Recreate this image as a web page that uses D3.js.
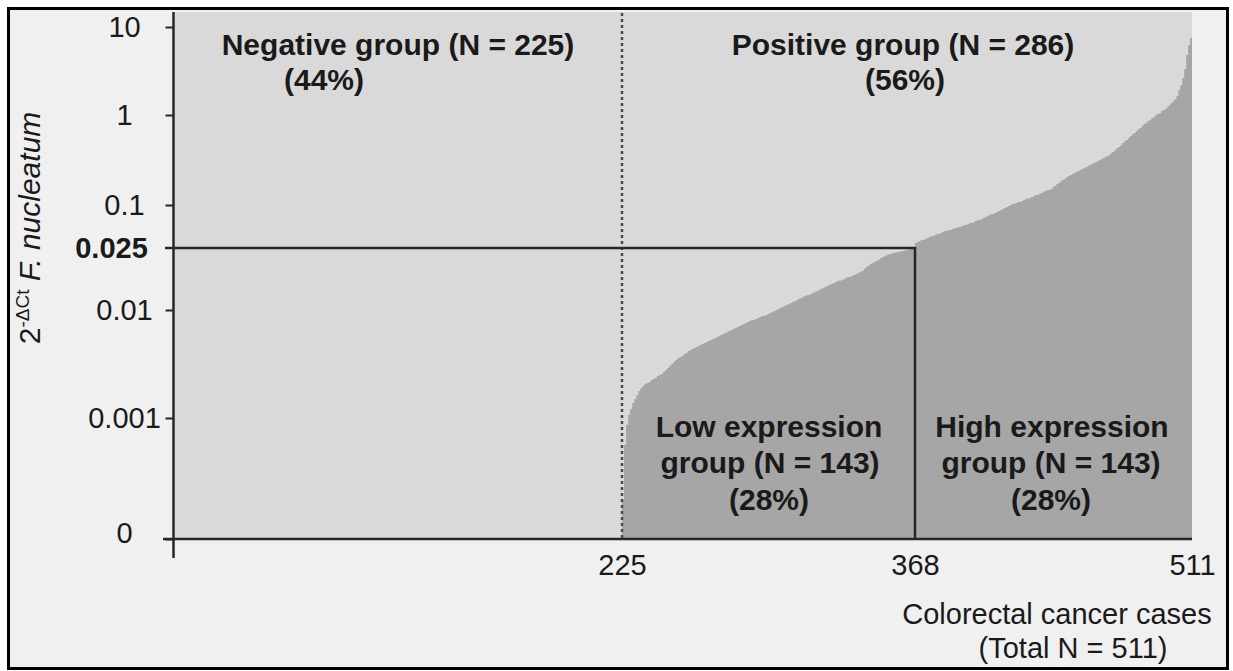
<!DOCTYPE html>
<html>
<head>
<meta charset="utf-8">
<script src="https://cdn.jsdelivr.net/npm/d3@7"></script>
<style>
  body { margin: 0; background: #ffffff; }
  svg { display: block; }
  text { font-family: "Liberation Sans", Arial, sans-serif; fill: #1a1a1a; }
</style>
</head>
<body>
<svg id="chart" width="1233" height="671"></svg>
<script>
// Fusobacterium nucleatum load (2^-ΔCt) per colorectal cancer case, sorted ascending.
// Negative cases (no detectable load) are all zero.
const negativeCount = 225;
const threshold = 0.025;

// Positive cases below the median (low expression group)
const lowValues = [
  0.00021, 0.0006, 0.00088, 0.00107, 0.00121, 0.00138, 0.0015, 0.00163, 0.00178, 0.0019,
  0.00198, 0.00206, 0.00211, 0.00216, 0.00225, 0.0023, 0.00235, 0.00245, 0.0025, 0.00255,
  0.00267, 0.00278, 0.0029, 0.00303, 0.00316, 0.0033, 0.00344, 0.0036, 0.00367, 0.00375,
  0.00392, 0.004, 0.00417, 0.00426, 0.00435, 0.00445, 0.00454, 0.00464, 0.00474, 0.00484,
  0.00495, 0.00505, 0.00516, 0.00527, 0.00539, 0.0055, 0.00562, 0.00574, 0.00587, 0.006,
  0.00613, 0.00626, 0.00639, 0.00653, 0.00667, 0.00681, 0.00696, 0.00711, 0.00726, 0.00742,
  0.00758, 0.00774, 0.00791, 0.00808, 0.00808, 0.00825, 0.00843, 0.00861, 0.0088, 0.0088,
  0.00899, 0.00918, 0.00938, 0.00958, 0.00979, 0.01, 0.0102, 0.0103, 0.0105, 0.0106,
  0.0108, 0.0109, 0.0111, 0.0113, 0.0114, 0.0116, 0.0118, 0.0119, 0.0121, 0.0123,
  0.0125, 0.0125, 0.0127, 0.0129, 0.0131, 0.0133, 0.0135, 0.0137, 0.0139, 0.0141,
  0.0143, 0.0145, 0.0147, 0.0149, 0.0151, 0.0154, 0.0154, 0.0156, 0.0158, 0.0161,
  0.0163, 0.0163, 0.0166, 0.0168, 0.017, 0.0173, 0.0176, 0.0178, 0.0184, 0.0189,
  0.0192, 0.0198, 0.0201, 0.0204, 0.0207, 0.021, 0.0216, 0.0219, 0.0222, 0.0226,
  0.0229, 0.0229, 0.0233, 0.0233, 0.0236, 0.0236, 0.0239, 0.0239, 0.0243, 0.0243,
  0.0247, 0.0247, 0.025
];

// Positive cases above the median (high expression group)
const highValues = [
  0.0294, 0.0303, 0.0313, 0.0324, 0.0324, 0.0334, 0.0345, 0.0356, 0.0368, 0.0368,
  0.038, 0.0393, 0.0393, 0.0406, 0.0419, 0.0433, 0.0433, 0.0447, 0.0447, 0.0461,
  0.0476, 0.0476, 0.0492, 0.0492, 0.0508, 0.0525, 0.0525, 0.0542, 0.056, 0.056,
  0.0578, 0.0597, 0.0617, 0.0617, 0.0637, 0.0658, 0.0679, 0.0702, 0.0724, 0.0748,
  0.0748, 0.0773, 0.0798, 0.0824, 0.0851, 0.0879, 0.0908, 0.0938, 0.0968, 0.1,
  0.103, 0.103, 0.105, 0.108, 0.108, 0.111, 0.114, 0.117, 0.117, 0.12,
  0.123, 0.126, 0.129, 0.129, 0.133, 0.136, 0.14, 0.143, 0.147, 0.147,
  0.151, 0.159, 0.163, 0.171, 0.176, 0.185, 0.19, 0.195, 0.205, 0.21,
  0.215, 0.221, 0.227, 0.233, 0.239, 0.245, 0.251, 0.258, 0.264, 0.271,
  0.278, 0.286, 0.293, 0.301, 0.308, 0.316, 0.324, 0.333, 0.342, 0.35,
  0.359, 0.378, 0.388, 0.408, 0.43, 0.441, 0.464, 0.489, 0.514, 0.528,
  0.555, 0.584, 0.615, 0.631, 0.664, 0.699, 0.717, 0.755, 0.794, 0.815,
  0.858, 0.88, 0.926, 0.95, 1.0, 1.03, 1.05, 1.11, 1.14, 1.17,
  1.23, 1.3, 1.37, 1.44, 1.52, 1.64, 1.92, 2.19, 2.63, 3.33,
  4.81, 6.25, 7.5
];

const yTickValues = [0, 0.001, 0.01, 0.1, 1, 10];
const yTickLabels = ["0", "0.001", "0.01", "0.1", "1", "10"];
const xTickValues = [225, 368, 511];

// ---------------------------------------------------------------------------
const negativeValues = new Array(negativeCount).fill(0);
const allValues = negativeValues.concat(lowValues, highValues);
const total = allValues.length;
const positiveCount = lowValues.length + highValues.length;
const pct = n => Math.round(n / total * 100) + "%";

const svg = d3.select("#chart");

// x: case rank; y: log10 of the load (zero is pinned to the baseline)
const x = d3.scaleLinear()
  .domain([0, negativeCount, negativeCount + lowValues.length, total])
  .range([175, 622, 915, 1192]);
const zeroLog = -4;
const yLog = d3.scaleLinear()
  .domain([zeroLog, -3, -2, Math.log10(threshold), -1, 0, 1])
  .range([539, 418, 310, 248, 205, 115, 27])
  .clamp(true);
const toLog = v => v > 0 ? Math.log10(v) : zeroLog;
const y = v => yLog(toLog(v));
const baseY = y(0);
const plotTop = 12;

// outer frame
svg.append("rect")
  .attr("x", 8.5).attr("y", 8.5).attr("width", 1219).attr("height", 660)
  .attr("fill", "#f0f0f0").attr("stroke", "#000").attr("stroke-width", 3);

// plot background
svg.append("rect")
  .attr("x", x(0)).attr("y", plotTop)
  .attr("width", x(total) - x(0)).attr("height", baseY - plotTop)
  .attr("fill", "#d9d9d9");

// step area: one flat step per case
const steps = [];
allValues.forEach((v, i) => {
  steps.push({ i: i, v: v });
  steps.push({ i: i + 1, v: v });
});
const area = d3.area()
  .x(d => x(d.i))
  .y0(baseY)
  .y1(d => y(d.v));
svg.append("path")
  .datum(steps)
  .attr("d", area)
  .attr("fill", "#a6a6a6");

// split between negative and positive cases
svg.append("line")
  .attr("x1", x(negativeCount)).attr("x2", x(negativeCount))
  .attr("y1", plotTop + 1).attr("y2", baseY)
  .attr("stroke", "#4a4a4a").attr("stroke-width", 2.5)
  .attr("stroke-dasharray", "3,3");

// median threshold (0.025) and the low/high split
const splitX = x(negativeCount + lowValues.length);
svg.append("path")
  .attr("d", `M165,${y(threshold)}H${splitX}V${baseY}`)
  .attr("fill", "none").attr("stroke", "#262626").attr("stroke-width", 2.5);

// y axis
const yAxis = d3.axisLeft(yLog)
  .tickValues(yTickValues.map(toLog))
  .tickFormat((d, i) => yTickLabels[i])
  .tickSize(8).tickPadding(0);
const gy = svg.append("g").attr("transform", "translate(173.5,0)").call(yAxis);
gy.select(".domain").remove();
gy.selectAll(".tick line").attr("stroke", "#262626").attr("stroke-width", 2);
gy.selectAll(".tick text")
  .attr("x", -49).attr("text-anchor", "middle")
  .attr("font-size", 29).attr("font-family", null).attr("fill", "#222");
gy.selectAll(".tick").filter(d => d === zeroLog).select("text").attr("dy", "0.12em");

// threshold label
const gt = svg.append("g").attr("transform", "translate(173.5,0)")
  .call(d3.axisLeft(yLog).tickValues([Math.log10(threshold)]).tickFormat(() => String(threshold)).tickSize(0));
gt.select(".domain").remove();
gt.selectAll(".tick text")
  .attr("x", -62).attr("text-anchor", "middle")
  .attr("font-size", 29).attr("font-weight", "bold").attr("font-family", null).attr("fill", "#111");

// x axis
const xAxis = d3.axisBottom(x).tickValues(xTickValues).tickSize(0).tickPadding(15);
const gx = svg.append("g").attr("transform", `translate(0,${baseY})`).call(xAxis);
gx.select(".domain").remove();
gx.selectAll(".tick text").attr("font-size", 29).attr("font-family", null).attr("fill", "#222");

// axis lines
svg.append("path")
  .attr("d", `M163,${baseY}H${x(total)}M173.5,${plotTop}V558`)
  .attr("fill", "none").attr("stroke", "#262626").attr("stroke-width", 2.5);

// axis titles
const yTitle = svg.append("text")
  .attr("transform", "translate(40,228) rotate(-90)")
  .attr("text-anchor", "middle").attr("font-size", 30).attr("fill", "#333");
yTitle.append("tspan").text("2");
yTitle.append("tspan").attr("font-size", 19).attr("dy", -11).text("-ΔCt");
yTitle.append("tspan").attr("dy", 11).text(" ");
yTitle.append("tspan").attr("font-style", "italic").text("F. nucleatum");

svg.append("text").attr("x", 1057).attr("y", 624).attr("text-anchor", "middle")
  .attr("font-size", 29).attr("fill", "#222").text("Colorectal cancer cases");
svg.append("text").attr("x", 1073).attr("y", 658).attr("text-anchor", "middle")
  .attr("font-size", 29).attr("fill", "#222").text(`(Total N = ${total})`);

// group annotations
const groupLabel = (cx, lines, baselines) => {
  lines.forEach((t, k) => {
    svg.append("text")
      .attr("x", cx[k]).attr("y", baselines[k])
      .attr("text-anchor", "middle")
      .attr("font-size", 30).attr("font-weight", "bold").attr("fill", "#111")
      .text(t);
  });
};
groupLabel([398, 324], [`Negative group (N = ${negativeCount})`, `(${pct(negativeCount)})`], [55, 90]);
groupLabel([903, 905], [`Positive group (N = ${positiveCount})`, `(${pct(positiveCount)})`], [55, 90]);
groupLabel([769, 770, 769], ["Low expression", `group (N = ${lowValues.length})`, `(${pct(lowValues.length)})`], [437, 473, 510]);
groupLabel([1052, 1051, 1051], ["High expression", `group (N = ${highValues.length})`, `(${pct(highValues.length)})`], [437, 473, 510]);
</script>
</body>
</html>
